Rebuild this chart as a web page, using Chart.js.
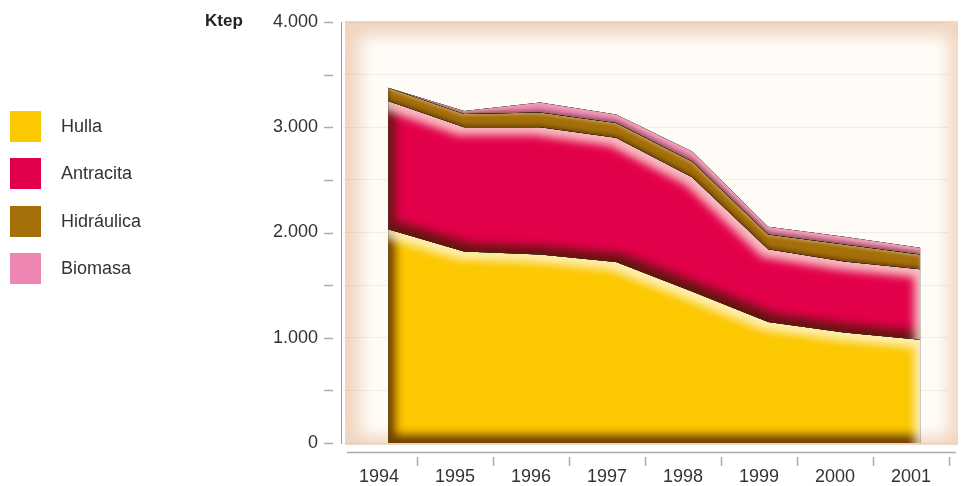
<!DOCTYPE html>
<html lang="es">
<head>
<meta charset="utf-8">
<title>Ktep</title>
<script src="https://cdn.jsdelivr.net/npm/chart.js@4/dist/chart.umd.min.js"></script>
<style>
  html, body { margin: 0; padding: 0; background: #fff; }
  #wrap { position: relative; width: 965px; height: 486px; }
  #unit {
    position: absolute; left: 205px; top: 11px;
    font: bold 17px "Liberation Sans Narrow", "Liberation Sans", Arial, sans-serif;
    color: #222;
  }
  #legend {
    position: absolute; left: 10px; top: 111px;
    font: 18px "Liberation Sans", Arial, sans-serif; color: #333;
  }
  .item { display: flex; align-items: center; height: 31px; margin-bottom: 16.3px; }
  .sw { width: 31px; height: 31px; margin-right: 20px; }
</style>
</head>
<body>
<div id="wrap">
  <canvas id="chart" width="965" height="486"></canvas>
  <div id="unit">Ktep</div>
  <div id="legend"></div>
</div>
<script>
// Ktep per year, stacked from the bottom up
const years = ['1994', '1995', '1996', '1997', '1998', '1999', '2000', '2001'];
const hulla = [2030, 1820, 1790, 1720, 1440, 1150, 1050, 980];
const antracita = [1220, 1180, 1210, 1180, 1085, 690, 675, 670];
const hidraulica = [125, 125, 140, 140, 150, 140, 160, 140];
const biomasa = [0, 30, 95, 80, 95, 75, 75, 65];

const names = ['Hulla', 'Antracita', 'Hidráulica', 'Biomasa'];
const colors = ['#fcc800', '#e3004a', '#a56f0a', '#ee86b4'];
const series = [hulla, antracita, hidraulica, biomasa];

const FONT = '"Liberation Sans", Arial, sans-serif';

// thousands with a dot, as in 4.000
function fmt(v) {
  return String(v).replace(/\B(?=(\d{3})+(?!\d))/g, '.');
}

// soft peach frame behind the plot
const panel = {
  id: 'panel',
  beforeDraw(chart) {
    const { ctx, chartArea: a } = chart;
    const l = a.left + 4, t = a.top - 1, r = a.right + 9, b = a.bottom + 2;
    ctx.save();
    ctx.beginPath();
    ctx.rect(l, t, r - l, b - t);
    ctx.clip();
    ctx.fillStyle = '#f1d6c1';
    ctx.fillRect(l, t, r - l, b - t);
    ctx.filter = 'blur(8px)';
    ctx.fillStyle = '#fffcf8';
    ctx.fillRect(l + 15, t + 15, r - l - 24, b - t - 24);
    ctx.restore();
  }
};

function shade(ctx, path, color, dx, dy, blur) {
  ctx.save();
  ctx.shadowColor = color;
  ctx.shadowBlur = blur;
  ctx.shadowOffsetX = dx;
  ctx.shadowOffsetY = dy;
  ctx.fillStyle = '#000';
  ctx.fill(path, 'evenodd');
  ctx.restore();
}

// embossed look: dark inner edge bottom/left, light inner edge top/right
// the two thin top bands get a shallower edge
const bevel = {
  id: 'bevel',
  afterDatasetsDraw(chart) {
    const ctx = chart.ctx;
    const zero = chart.scales.y.getPixelForValue(0);
    let lower = null;
    chart.data.datasets.forEach((ds, i) => {
      const pts = chart.getDatasetMeta(i).data;
      const band = new Path2D();
      pts.forEach((p, j) => j ? band.lineTo(p.x, p.y) : band.moveTo(p.x, p.y));
      for (let j = pts.length - 1; j >= 0; j--) {
        band.lineTo(pts[j].x, lower ? lower[j].y : zero);
      }
      band.closePath();
      const outside = new Path2D();
      outside.rect(0, 0, chart.width, chart.height);
      outside.addPath(band);
      ctx.save();
      ctx.clip(band);
      if (i < 2) {
        shade(ctx, outside, 'rgba(70,25,0,0.8)', 7, -8, 10);
        shade(ctx, outside, 'rgba(255,250,232,0.75)', -6, 8, 9);
      } else {
        shade(ctx, outside, 'rgba(60,30,0,0.55)', 1, -2, 4);
        shade(ctx, outside, 'rgba(255,240,210,0.35)', -1, 2, 3);
      }
      ctx.restore();
      lower = pts;
    });
  }
};

// tick marks and base line, drawn a little apart from the plot
const axisMarks = {
  id: 'axisMarks',
  afterDraw(chart) {
    const { ctx, chartArea: a } = chart;
    const y = chart.scales.y, x = chart.scales.x;
    ctx.save();
    ctx.strokeStyle = '#aaa';
    ctx.lineWidth = 1.5;
    ctx.beginPath();
    y.ticks.forEach(t => {
      const py = Math.round(y.getPixelForValue(t.value)) + 0.5;
      ctx.moveTo(a.left - 17, py);
      ctx.lineTo(a.left - 8, py);
    });
    const by = Math.round(a.bottom + 9) + 0.5;
    ctx.moveTo(a.left + 6, by);
    ctx.lineTo(a.right + 7, by);
    years.forEach((yr, i) => {
      const px = Math.round(x.getPixelForValue(i + 0.5)) + 0.5;
      ctx.moveTo(px, a.bottom + 14);
      ctx.lineTo(px, a.bottom + 23);
    });
    ctx.stroke();
    ctx.restore();
  }
};

const datasets = series.map((vals, i) => ({
  label: names[i],
  data: vals.map((v, j) => ({ x: j, y: v })),
  xAxisID: 'xd',
  backgroundColor: colors[i],
  borderWidth: 0,
  pointRadius: 0,
  tension: 0,
  fill: i === 0 ? 'origin' : '-1'
}));

new Chart(document.getElementById('chart'), {
  type: 'line',
  data: { labels: years, datasets: datasets },
  options: {
    responsive: false,
    animation: false,
    devicePixelRatio: 1,
    layout: { padding: { top: 22, right: 16, left: 0, bottom: 0 } },
    plugins: { legend: { display: false }, tooltip: { enabled: false } },
    scales: {
      x: {
        type: 'category',
        offset: true,
        border: { display: false },
        grid: { display: false, drawTicks: false },
        ticks: { color: '#333', padding: 23, font: { family: FONT, size: 18 }, autoSkip: false, maxRotation: 0 },
        afterFit(s) { s.height = 43; }
      },
      xd: {
        type: 'linear',
        display: false,
        min: -0.62,
        max: 7.38
      },
      y: {
        stacked: true,
        min: 0,
        max: 4000,
        border: { display: true, color: '#999', width: 1 },
        grid: { color: 'rgba(190,165,150,0.18)', drawTicks: false },
        ticks: {
          stepSize: 500,
          padding: 23,
          color: '#333',
          font: { family: FONT, size: 18 },
          callback: v => (v % 1000 === 0 ? fmt(v) : '')
        },
        afterFit(s) {
          s.width = 341;
          // label overhang is already covered by the layout padding
          s.paddingTop = 0;
          s.paddingBottom = 0;
        }
      }
    }
  },
  plugins: [panel, bevel, axisMarks]
});

// legend built from the same series
const legend = document.getElementById('legend');
names.forEach((n, i) => {
  const item = document.createElement('div');
  item.className = 'item';
  const sw = document.createElement('div');
  sw.className = 'sw';
  sw.style.background = colors[i];
  const label = document.createElement('span');
  label.textContent = n;
  item.appendChild(sw);
  item.appendChild(label);
  legend.appendChild(item);
});
</script>
</body>
</html>
